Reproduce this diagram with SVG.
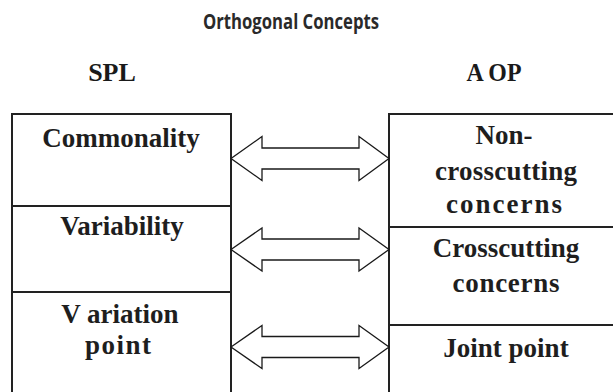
<svg xmlns="http://www.w3.org/2000/svg" width="613" height="392" viewBox="0 0 613 392">
  <style>
    .title { font-family: "Open Sans", "Liberation Sans", sans-serif; font-size: 21px; font-weight: 700; fill: #2a2a2a; }
    .head { font-family: "Liberation Serif", "Times New Roman", serif; font-size: 26px; font-weight: bold; fill: #1a1a1a; }
    .lbl { font-family: "Liberation Serif", "Times New Roman", serif; font-size: 27px; font-weight: bold; fill: #1e1e1e; }
    .box { fill: #ffffff; stroke: #222222; stroke-width: 2; }
    .div { stroke: #222222; stroke-width: 2; }
    .arrow { fill: #ffffff; stroke: #1a1a1a; stroke-width: 1.3; stroke-linejoin: miter; }
  </style>
  <rect width="613" height="392" fill="#ffffff"/>

  <text class="title" x="291" y="29" text-anchor="middle" textLength="176" lengthAdjust="spacingAndGlyphs">Orthogonal Concepts</text>
  <text class="head" x="112" y="81" text-anchor="middle">SPL</text>
  <text class="head" x="494" y="81" text-anchor="middle" textLength="55" lengthAdjust="spacingAndGlyphs">A OP</text>

  <!-- SPL column -->
  <g id="spl">
    <rect class="box" x="12" y="114" width="219" height="290"/>
    <line class="div" x1="12" y1="206" x2="231" y2="206"/>
    <line class="div" x1="12" y1="292" x2="231" y2="292"/>
  </g>
  <g id="commonality">
    <text class="lbl" x="121" y="147" text-anchor="middle">Commonality</text>
  </g>
  <g id="variability">
    <text class="lbl" x="122" y="235" text-anchor="middle">Variability</text>
  </g>
  <g id="variation-point">
    <text class="lbl" x="120" y="323" text-anchor="middle">V ariation</text>
    <text class="lbl" x="118" y="354" text-anchor="middle" textLength="66" lengthAdjust="spacing">point</text>
  </g>

  <!-- AOP column -->
  <g id="aop">
    <rect class="box" x="389" y="114" width="240" height="290"/>
    <line class="div" x1="389" y1="227" x2="613" y2="227"/>
    <line class="div" x1="389" y1="325" x2="613" y2="325"/>
  </g>
  <g id="non-crosscutting">
    <text class="lbl" x="504" y="144" text-anchor="middle">Non-</text>
    <text class="lbl" x="506" y="180" text-anchor="middle" textLength="142" lengthAdjust="spacing">crosscutting</text>
    <text class="lbl" x="504" y="213" text-anchor="middle" textLength="116" lengthAdjust="spacing">concerns</text>
  </g>
  <g id="crosscutting">
    <text class="lbl" x="506" y="257" text-anchor="middle">Crosscutting</text>
    <text class="lbl" x="506" y="292" text-anchor="middle" textLength="107" lengthAdjust="spacing">concerns</text>
  </g>
  <g id="joint-point">
    <text class="lbl" x="506" y="357" text-anchor="middle">Joint point</text>
  </g>

  <!-- double-headed block arrows between the columns -->
  <g id="connectors">
    <path class="arrow" d="M231,158.5 L262,136.5 L262,148 L359,148 L359,136.5 L389,158.5 L359,180.5 L359,169 L262,169 L262,180.5 Z"/>
    <path class="arrow" d="M231,249.5 L262,228 L262,239 L359,239 L359,228 L389,249.5 L359,271 L359,260 L262,260 L262,271 Z"/>
    <path class="arrow" d="M231,347 L262,325.5 L262,336.5 L359,336.5 L359,325.5 L389,347 L359,368.5 L359,357.5 L262,357.5 L262,368.5 Z"/>
  </g>
</svg>
